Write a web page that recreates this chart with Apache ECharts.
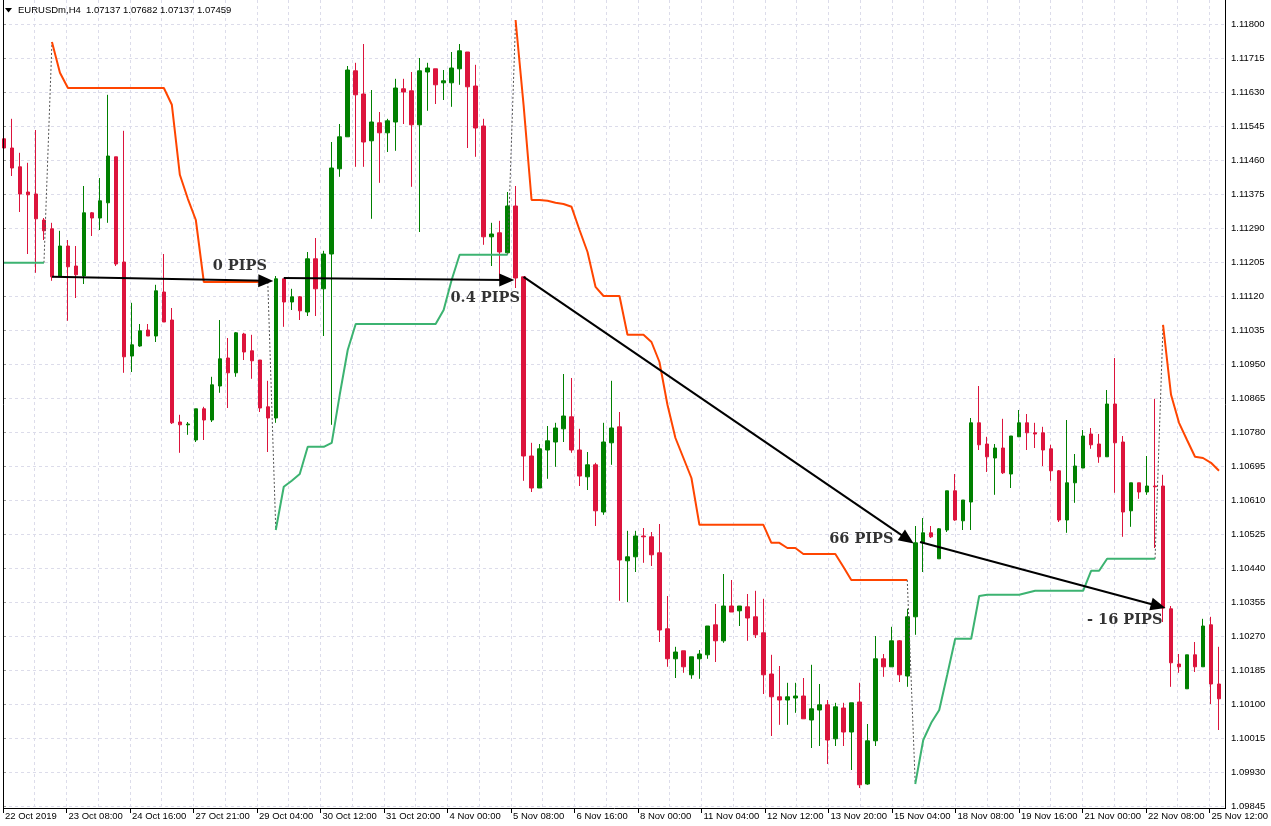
<!DOCTYPE html>
<html>
<head>
<meta charset="utf-8">
<script src="https://cdn.jsdelivr.net/npm/echarts@6/dist/echarts.min.js"></script>
<style>
html,body{margin:0;padding:0;background:#fff;}
#chart{width:1271px;height:826px;}
</style>
</head>
<body>
<div id="chart"></div>
<script>
// Prices are in points (1.11800 = 111800)
const _ = null;
const timeLabels = ["22 Oct 2019","23 Oct 08:00","24 Oct 16:00","27 Oct 21:00","29 Oct 04:00","30 Oct 12:00","31 Oct 20:00","4 Nov 00:00","5 Nov 08:00","6 Nov 16:00","8 Nov 00:00","11 Nov 04:00","12 Nov 12:00","13 Nov 20:00","15 Nov 04:00","18 Nov 08:00","19 Nov 16:00","21 Nov 00:00","22 Nov 08:00","25 Nov 12:00"];

const openP = [111513,111490,111443,111380,111375,111310,111288,111170,111245,111195,
111170,111328,111315,111353,111468,111205,110970,110995,111035,111020,
111130,111060,110805,110798,110760,110838,110810,110895,110965,110928,
111025,110983,110960,110843,110815,111163,111105,111118,111080,111213,
111138,111225,111438,111518,111683,111625,111508,111553,111528,111555,
111638,111633,111548,111680,111688,111653,111653,111688,111730,111645,
111545,111268,111278,111228,111345,111168,110720,110640,110735,110755,
110788,110818,110735,110668,110698,110580,110753,110793,110458,110468,
110520,110518,110478,110288,110213,110233,110173,110213,110223,110298,
110258,110345,110333,110343,110318,110278,110175,110118,110110,110115,
110120,110060,110085,110098,110013,110090,110030,110105,109900,110008,
110213,110193,110258,110170,110318,110503,110528,110463,110535,110633,
110558,110605,110803,110750,110715,110740,110675,110768,110803,110778,
110778,110738,110683,110560,110653,110690,110775,110750,110718,110850,
110755,110583,110653,110630,110645,110645,110338,110200,110138,110223,
110193,110298,110150];

const closeP = [111490,111440,111375,111373,111313,111283,111168,111245,111193,111173,
111328,111315,111358,111470,111200,110968,110998,111033,111020,111133,
111055,110803,110798,110800,110838,110810,110898,110963,110928,111028,
110980,110958,110840,110815,111163,111105,111118,111083,111213,111138,
111225,111440,111518,111685,111623,111505,111555,111528,111558,111640,
111630,111548,111683,111690,111648,111658,111690,111733,111643,111540,
111268,111275,111230,111345,111165,110720,110640,110738,110758,110790,
110820,110735,110670,110698,110583,110755,110790,110460,110468,110520,
110518,110473,110285,110213,110230,110193,110218,110225,110295,110258,
110345,110330,110345,110315,110273,110173,110118,110110,110118,110120,
110063,110088,110098,110010,110093,110030,110103,109898,110008,110213,
110193,110258,110173,110318,110503,110528,110518,110538,110633,110560,
110610,110803,110748,110718,110740,110678,110770,110803,110778,110775,
110735,110683,110560,110653,110695,110770,110748,110718,110850,110753,
110580,110653,110630,110645,110643,110340,110203,110193,110223,110193,
110295,110150,110113];

const lowP = [111470,111420,111330,111225,111178,111260,111158,111170,111058,111115,
111150,111270,111285,111303,111195,110928,110930,110993,111020,111005,
111055,110800,110728,110773,110755,110760,110805,110878,110840,110918,
110960,110913,110830,110730,110803,111043,111085,111060,111070,111070,
111020,110798,111418,111518,111443,111443,111313,111403,111480,111483,
111550,111393,111280,111583,111600,111610,111593,111648,111490,111468,
111248,111195,111160,111228,111140,110658,110630,110640,110663,110693,
110755,110728,110645,110635,110545,110573,110698,110358,110355,110430,
110453,110445,110255,110193,110165,110178,110163,110163,110213,110205,
110253,110330,110295,110258,110265,110125,110020,110048,110048,110078,
110063,109990,109995,109950,109995,109995,109935,109890,109898,109995,
110168,110193,110155,110143,110273,110430,110515,110463,110530,110558,
110535,110535,110735,110680,110623,110675,110640,110768,110735,110740,
110695,110658,110555,110528,110603,110690,110738,110703,110718,110628,
110518,110543,110613,110623,110490,110305,110143,110178,110138,110180,
110193,110100,110035];

const highP = [111565,111563,111478,111453,111535,111315,111303,111283,111260,111245,
111395,111330,111415,111623,111468,111533,111103,111050,111050,111148,
111225,111090,110823,110805,110838,110843,110918,111060,111015,111030,
111028,111023,110960,110908,111170,111163,111138,111120,111230,111265,
111233,111505,111550,111695,111703,111750,111635,111580,111563,111663,
111663,111680,111715,111703,111688,111685,111730,111750,111730,111698,
111563,111303,111308,111380,111395,111168,110753,110750,110795,110803,
110925,110915,110788,110730,110703,110803,110908,110830,110533,110533,
110540,110530,110550,110370,110243,110233,110218,110235,110295,110350,
110425,110410,110345,110375,110383,110363,110223,110195,110153,110153,
110165,110198,110150,110110,110103,110103,110103,110153,110050,110270,
110225,110293,110260,110338,110545,110565,110545,110540,110633,110675,
110610,110815,110895,110768,110750,110813,110770,110835,110825,110803,
110793,110748,110685,110810,110725,110785,110790,110775,110885,110965,
110770,110653,110653,110720,110863,110673,110345,110225,110223,110255,
110313,110318,110243];

// Trailing-stop indicator: upper (orange) and lower (green) lines
const upperLine = [_,_,_,_,_,_,111755,111678,111640,111640,
111640,111640,111640,111640,111640,111640,111640,111640,111640,111640,
111640,111598,111423,111363,111310,111155,111155,111155,111155,111155,
111155,111155,111155,111155,_,_,_,_,_,_,
_,_,_,_,_,_,_,_,_,_,
_,_,_,_,_,_,_,_,_,_,
_,_,_,_,111810,111598,111360,111360,111358,111353,
111350,111343,111285,111230,111143,111120,111120,111120,111023,111023,
111023,111005,110955,110848,110765,110715,110665,110548,110548,110548,
110548,110548,110548,110548,110548,110548,110503,110503,110490,110490,
110475,110475,110475,110475,110475,110443,110410,110410,110410,110410,
110410,110410,110410,110410,_,_,_,_,_,_,
_,_,_,_,_,_,_,_,_,_,
_,_,_,_,_,_,_,_,_,_,
_,_,_,_,_,111048,110873,110803,110760,110718,
110715,110703,110683];

const lowerLine = [111203,111203,111203,111203,111203,111203,_,_,_,_,
_,_,_,_,_,_,_,_,_,_,
_,_,_,_,_,_,_,_,_,_,
_,_,_,_,110535,110643,110658,110675,110743,110743,
110743,110753,110873,110985,111050,111050,111050,111050,111050,111050,
111050,111050,111050,111050,111050,111085,111160,111223,111223,111223,
111223,111223,111223,111223,_,_,_,_,_,_,
_,_,_,_,_,_,_,_,_,_,
_,_,_,_,_,_,_,_,_,_,
_,_,_,_,_,_,_,_,_,_,
_,_,_,_,_,_,_,_,_,_,
_,_,_,_,109900,110010,110053,110085,110173,110263,
110263,110263,110370,110373,110373,110373,110373,110373,110378,110383,
110383,110383,110383,110383,110383,110383,110433,110433,110463,110463,
110463,110463,110463,110463,110463,_,_,_,_,_,
_,_,_];

// Annotation arrows: [fromBar, fromPrice, toBar, toPrice]
const arrows = [
  [6, 111168, 32.75, 111158],
  [35, 111165, 62.9, 111160],
  [65, 111168, 113.03, 110512],
  [114.6, 110505, 144.4, 110345]
];
// Annotation texts: [bar, price, text]
const notes = [
  [29.5, 111195, "0 PIPS"],
  [60.2, 111114, "0.4 PIPS"],
  [107.25, 110513, "66 PIPS"],
  [140.2, 110310, "- 16 PIPS"]
];

const N = openP.length;
const cats = openP.map((v, i) => String(i));
const candles = openP.map((o, i) => [o, closeP[i], lowP[i], highP[i]]);

// dotted connectors where the indicator flips between its lines
const connector = new Array(N).fill(null);
for (let i = 0; i < N - 1; i++) {
  if (lowerLine[i] != null && lowerLine[i + 1] == null && upperLine[i + 1] != null) {
    connector[i] = lowerLine[i]; connector[i + 1] = upperLine[i + 1];
  }
  if (upperLine[i] != null && upperLine[i + 1] == null && lowerLine[i + 1] != null) {
    connector[i] = upperLine[i]; connector[i + 1] = lowerLine[i + 1];
  }
}

const gridColor = '#dcdcea';
const smallFont = {fontFamily: 'Liberation Sans, Arial, sans-serif', fontSize: 9.5, color: '#000'};

const chart = echarts.init(document.getElementById('chart'), null, {renderer: 'canvas'});
chart.setOption({
  animation: false,
  backgroundColor: '#ffffff',
  grid: [
    {left: -1, top: 0, width: 1224, height: 808},
    {left: 3, top: 24, width: 1222, height: 782},
    {left: 3, top: 0, width: 1216, height: 808}
  ],
  xAxis: [
    {gridIndex: 0, type: 'category', data: cats, boundaryGap: true, show: false},
    {gridIndex: 0, type: 'value', min: -0.5, max: N - 0.5, show: false},
    {gridIndex: 1, type: 'value', min: 0, max: 1, show: false},
    {gridIndex: 2, type: 'value', min: 0, max: N - 1, interval: 8, position: 'bottom',
      axisLine: {show: false},
      axisTick: {show: true, length: 5, lineStyle: {color: '#000'}},
      axisLabel: Object.assign({
        formatter: v => { const k = Math.round(v / 8); return timeLabels[k] || ''; },
        align: 'left', margin: 3, padding: [0, 0, 0, 2], showMinLabel: true, showMaxLabel: true
      }, smallFont),
      splitLine: {show: true, lineStyle: {color: gridColor, type: [3, 3], width: 1}},
      minorTick: {show: false, splitNumber: 2},
      minorSplitLine: {show: true, lineStyle: {color: gridColor, type: [3, 3], width: 1}}
    }
  ],
  yAxis: [
    {gridIndex: 0, type: 'value', min: 109840, max: 111860, show: false},
    {gridIndex: 1, type: 'value', min: 109845, max: 111800, interval: 85, position: 'right',
      axisLine: {show: false},
      axisTick: {show: true, length: 3, lineStyle: {color: '#999'}},
      axisLabel: Object.assign({
        formatter: v => (v / 100000).toFixed(5), margin: 6, showMinLabel: true, showMaxLabel: true
      }, smallFont),
      splitLine: {show: true, lineStyle: {color: gridColor, type: [3, 3], width: 1}}
    },
    {gridIndex: 2, type: 'value', min: 0, max: 1, show: false}
  ],
  series: [
    {type: 'candlestick', xAxisIndex: 0, yAxisIndex: 0, data: candles, barWidth: 4,
      itemStyle: {color: '#008000', color0: '#dc143c', borderColor: '#008000', borderColor0: '#dc143c', borderWidth: 1},
      z: 2},
    {type: 'line', xAxisIndex: 0, yAxisIndex: 0, data: connector, symbol: 'none', connectNulls: false,
      lineStyle: {color: '#555', width: 1, type: [2, 2]}, z: 3},
    {type: 'line', xAxisIndex: 0, yAxisIndex: 0, data: upperLine, symbol: 'none', connectNulls: false,
      lineStyle: {color: '#ff4500', width: 2}, z: 4},
    {type: 'line', xAxisIndex: 0, yAxisIndex: 0, data: lowerLine, symbol: 'none', connectNulls: false,
      lineStyle: {color: '#3cb371', width: 2}, z: 4},
    {type: 'line', xAxisIndex: 1, yAxisIndex: 0, data: [], symbol: 'none', z: 5,
      markLine: {silent: true, animation: false, symbol: ['none', 'triangle'], symbolSize: [13, 15],
        lineStyle: {color: '#000', width: 2, type: 'solid'}, label: {show: false},
        emphasis: {disabled: true},
        data: arrows.map(a => [{coord: [a[0], a[1]]}, {coord: [a[2], a[3]]}])}
    },
    {type: 'scatter', xAxisIndex: 1, yAxisIndex: 0, symbolSize: 1, z: 6,
      itemStyle: {color: 'rgba(0,0,0,0)'},
      label: {show: true, position: 'inside', fontFamily: 'DejaVu Serif, serif', fontWeight: 'bold', fontSize: 14.5, color: '#000'},
      data: notes.map(n => ({value: [n[0], n[1]], label: {formatter: n[2]}}))
    }
  ],
  graphic: [
    {type: 'line', z: 100, shape: {x1: 3.5, y1: 0, x2: 3.5, y2: 808.5}, style: {stroke: '#000', lineWidth: 1}},
    {type: 'line', z: 100, shape: {x1: 3, y1: 808.5, x2: 1226, y2: 808.5}, style: {stroke: '#000', lineWidth: 1}},
    {type: 'line', z: 100, shape: {x1: 1225.5, y1: 0, x2: 1225.5, y2: 808.5}, style: {stroke: '#000', lineWidth: 1}},
    {type: 'polygon', z: 100, shape: {points: [[5, 8], [12, 8], [8.5, 12.5]]}, style: {fill: '#000'}},
    {type: 'text', z: 100, left: 18, top: 5, style: Object.assign({text: 'EURUSDm,H4  1.07137 1.07682 1.07137 1.07459',
      font: '9.5px "Liberation Sans", Arial, sans-serif', fill: '#000'})}
  ]
});
</script>
</body>
</html>
